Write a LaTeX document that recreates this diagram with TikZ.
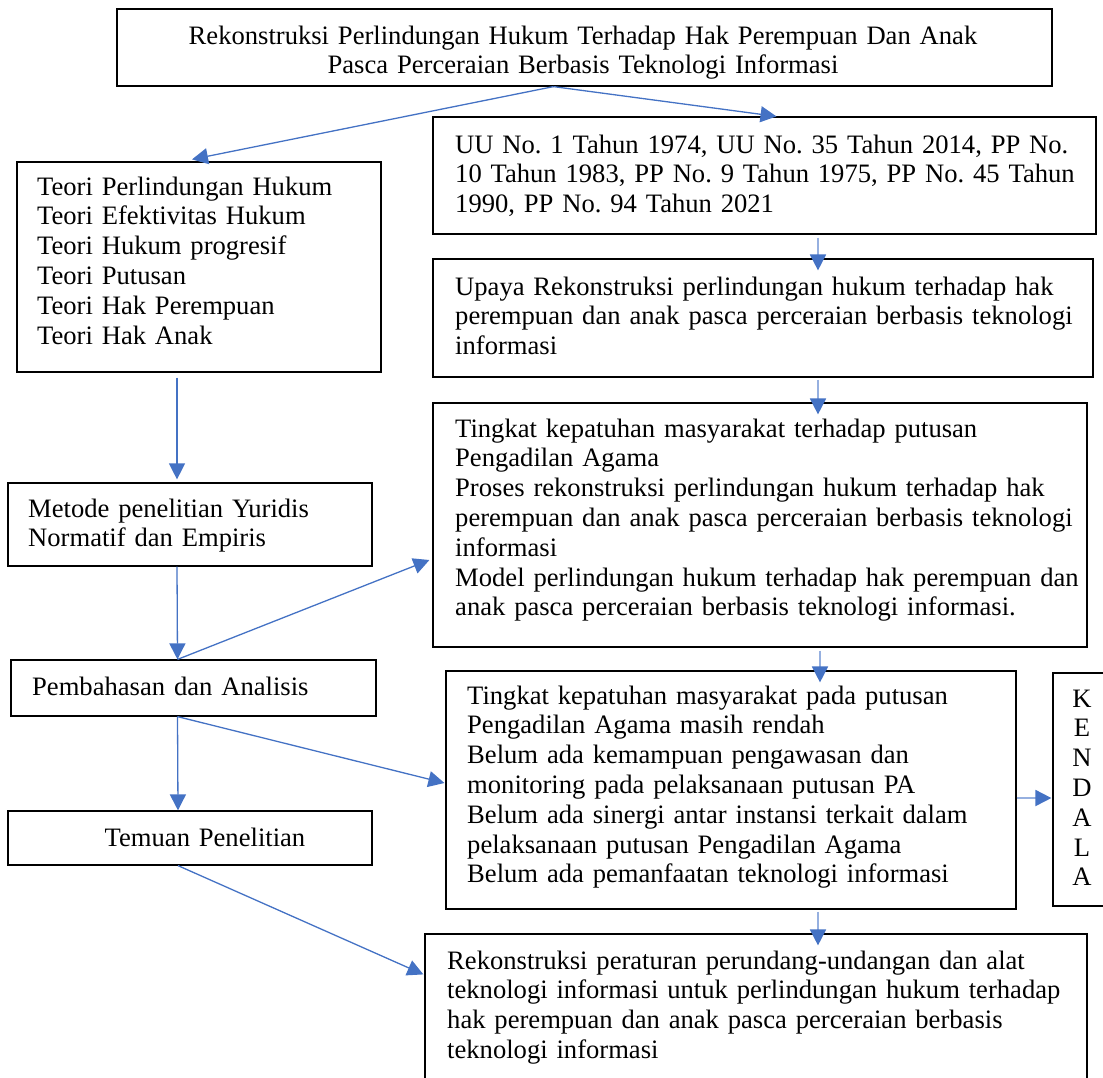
\documentclass[tikz,border=0pt]{standalone}
\usepackage{fontspec}
\setmainfont{Liberation Serif}
\frenchspacing
\usetikzlibrary{arrows.meta,fit}
\definecolor{arrblue}{RGB}{68,114,196}
\definecolor{lightblue}{RGB}{150,176,224}
\tikzset{
  box/.style={draw=black, line width=1.2pt, inner sep=0pt},
  txt/.style={inner sep=0pt, anchor=north west, align=left, text width=#1,
    font=\fontsize{26.6}{29.8}\selectfont\frenchspacing},
  txt/.default=640pt,
  arr/.style={draw=arrblue, line width=1.3pt, -{Triangle[width=16pt,length=16pt]}},
  larr/.style={draw=lightblue, line width=1.8pt, -{Triangle[width=16pt,length=16pt,color=arrblue]}},
  poke/.style={shorten >=-12pt}
}
\begin{document}
\begin{tikzpicture}[x=1pt,y=-1pt]
\useasboundingbox (0,0) rectangle (1103,1077);

% boxes
\node[box, fit={(117,9) (1052,86)}] (top) {};
\node[box, fit={(17,162) (381,372)}] (teori) {};
\node[box, fit={(433,117) (1096,234)}] (uu) {};
\node[box, fit={(433,259) (1093,377)}] (upaya) {};
\node[box, fit={(433,403) (1087,647)}] (tingkat) {};
\node[box, fit={(8,483) (372,566)}] (metode) {};
\node[box, fit={(11,660) (376,716)}] (pemb) {};
\node[box, fit={(8,811) (372,865)}] (temuan) {};
\node[box, fit={(446,671) (1016,909)}] (klist) {};
\node[box, fit={(1053,673) (1110,906)}] (kendala) {};
\node[box, fit={(425,934) (1087,1095)}] (bottom) {};

% texts
\node[txt=920pt, anchor=north, align=center] (ttop) at (583,23)
  {\strut Rekonstruksi Perlindungan Hukum Terhadap Hak Perempuan Dan Anak\\
   Pasca Perceraian Berbasis Teknologi Informasi};
\node[txt=340pt] (tteori) at (37,174)
  {\strut Teori Perlindungan Hukum\\
   Teori Efektivitas Hukum\\
   Teori Hukum progresif\\
   Teori Putusan\\
   Teori Hak Perempuan\\
   Teori Hak Anak};
\node[txt] (tuu) at (455,132)
  {\strut UU No. 1 Tahun 1974, UU No. 35 Tahun 2014, PP No.\\
   10 Tahun 1983, PP No. 9 Tahun 1975, PP No. 45 Tahun\\
   1990, PP No. 94 Tahun 2021};
\node[txt] (tupaya) at (455,274)
  {\strut Upaya Rekonstruksi perlindungan hukum terhadap hak\\
   perempuan dan anak pasca perceraian berbasis teknologi\\
   informasi};
\node[txt] (ttingkat) at (455,416)
  {\strut Tingkat kepatuhan masyarakat terhadap putusan\\
   Pengadilan Agama\\
   Proses rekonstruksi perlindungan hukum terhadap hak\\
   perempuan dan anak pasca perceraian berbasis teknologi\\
   informasi\\
   Model perlindungan hukum terhadap hak perempuan dan\\
   anak pasca perceraian berbasis teknologi informasi.};
\node[txt=340pt] (tmetode) at (28,496)
  {\strut Metode penelitian Yuridis\\
   Normatif dan Empiris};
\node[txt=340pt] (tpemb) at (32,674)
  {\strut Pembahasan dan Analisis};
\node[txt=340pt, anchor=north, align=center] (ttemuan) at (205,825)
  {\strut Temuan Penelitian};
\node[txt] (tklist) at (467,683)
  {\strut Tingkat kepatuhan masyarakat pada putusan\\
   Pengadilan Agama masih rendah\\
   Belum ada kemampuan pengawasan dan\\
   monitoring pada pelaksanaan putusan PA\\
   Belum ada sinergi antar instansi terkait dalam\\
   pelaksanaan putusan Pengadilan Agama\\
   Belum ada pemanfaatan teknologi informasi};
\node[txt=40pt, anchor=north, align=center] (tkendala) at (1082,686)
  {\strut K\\E\\N\\D\\A\\L\\A};
\node[txt] (tbottom) at (447,948)
  {\strut Rekonstruksi peraturan perundang-undangan dan alat\\
   teknologi informasi untuk perlindungan hukum terhadap\\
   hak perempuan dan anak pasca perceraian berbasis\\
   teknologi informasi};

% connectors (left, solid blue)
\draw[arr] ([xshift=-31pt]top.south) -- ([xshift=-7pt,yshift=2pt]teori.north);
\draw[arr] ([xshift=-31pt]top.south) -- ([xshift=12pt]uu.north);
\draw[arr] ([xshift=-22pt,yshift=-5pt]teori.south) -- ([xshift=-13pt,yshift=3pt]metode.north);
\draw[arr] ([xshift=-13pt]metode.south) -- ([xshift=-16pt]pemb.north);
\draw[arr] ([xshift=-16pt]pemb.north) -- ([xshift=-3pt,yshift=-35pt]tingkat.west);
\draw[arr] ([xshift=-16pt]pemb.south) -- ([xshift=-1pt,yshift=7pt]klist.west);
\draw[arr] ([xshift=-16pt]pemb.south) -- ([xshift=-12pt]temuan.north);
\draw[arr] ([xshift=-12pt]temuan.south) -- ([xshift=-1pt,yshift=-41pt]bottom.north west);

% connectors (right, light blue)
\draw[larr, poke] ([xshift=53.5pt,yshift=-3pt]uu.south) -- ([xshift=55pt]upaya.north);
\draw[larr, poke] ([xshift=55pt,yshift=-2pt]upaya.south) -- ([xshift=58pt]tingkat.north);
\draw[larr, poke] ([xshift=60pt,yshift=-3pt]tingkat.south) -- ([xshift=89pt]klist.north);
\draw[larr, poke] ([xshift=87pt,yshift=-2pt]klist.south) -- ([xshift=62pt]bottom.north);
\draw[larr] ([yshift=-8pt]klist.east) -- ([xshift=-1pt,yshift=-8.5pt]kendala.west);
\end{tikzpicture}
\end{document}
